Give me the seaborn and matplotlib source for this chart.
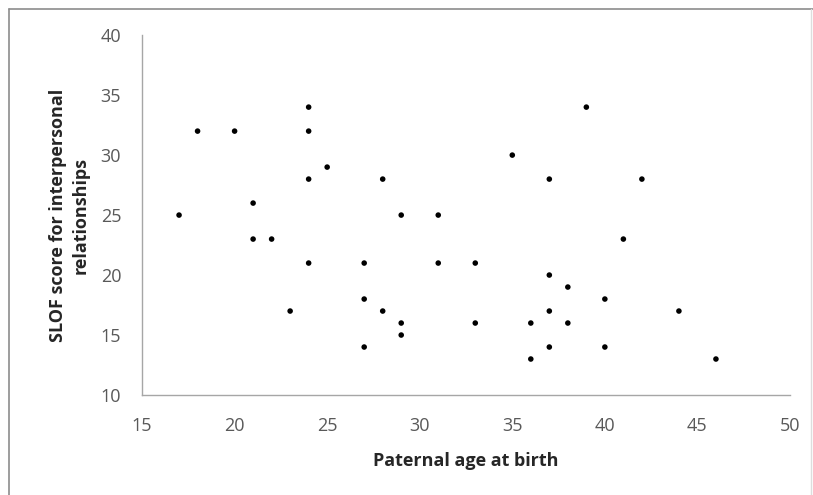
import matplotlib
matplotlib.use('Agg')
import matplotlib.pyplot as plt
import matplotlib.lines as mlines
import pandas as pd
import seaborn as sns

paternal_age = [17, 18, 20, 21, 21, 22, 23, 24, 24, 24, 24, 25, 27, 27, 27, 28, 28,
                29, 29, 29, 31, 31, 33, 33, 35, 36, 36, 37, 37, 37, 37, 38, 38, 39,
                40, 40, 41, 42, 44, 46]
slof_score = [25, 32, 32, 26, 23, 23, 17, 34, 32, 28, 21, 29, 21, 18, 14, 28, 17,
              25, 16, 15, 25, 21, 21, 16, 30, 16, 13, 28, 20, 17, 14, 19, 16, 34,
              18, 14, 23, 28, 17, 13]

df = pd.DataFrame({'age': paternal_age, 'slof': slof_score})

sns.set_style('white')
plt.rcParams['font.family'] = ['Open Sans', 'DejaVu Sans']

fig = plt.figure(figsize=(8.13, 4.95), dpi=100)
ax = fig.add_axes([0.1747, 0.202, 0.797, 0.727])

sns.scatterplot(data=df, x='age', y='slof', ax=ax, color='black', s=16,
                edgecolor='none', linewidth=0)

ax.set_xlim(15, 50)
ax.set_ylim(10, 40)
ax.set_xticks(range(15, 51, 5))
ax.set_yticks(range(10, 41, 5))

for side in ['top', 'right']:
    ax.spines[side].set_visible(False)
for side in ['left', 'bottom']:
    ax.spines[side].set_color('#a6a6a6')
    ax.spines[side].set_linewidth(1)

ax.tick_params(axis='both', direction='out', length=5, width=1, color='#a6a6a6',
               labelsize=13, labelcolor='#595959')
ax.tick_params(axis='x', pad=11)
ax.tick_params(axis='y', pad=10)

ax.set_xlabel('Paternal age at birth', fontsize=13, fontweight='bold',
              color='#262626', labelpad=12)
ax.set_ylabel('SLOF score for interpersonal\nrelationships', fontsize=13,
              fontweight='bold', color='#262626', labelpad=8, linespacing=1.3)

# outer chart frame (left/top darker, right faint)
fig.add_artist(mlines.Line2D([0.0105, 0.0105], [0.0, 0.982], transform=fig.transFigure,
                             color='#8c8c8c', lw=1.2))
fig.add_artist(mlines.Line2D([0.0105, 1.0], [0.982, 0.982], transform=fig.transFigure,
                             color='#8c8c8c', lw=1.2))
fig.add_artist(mlines.Line2D([0.997, 0.997], [0.0, 0.982], transform=fig.transFigure,
                             color='#dddddd', lw=1))

fig.savefig('out.png', dpi=100)
